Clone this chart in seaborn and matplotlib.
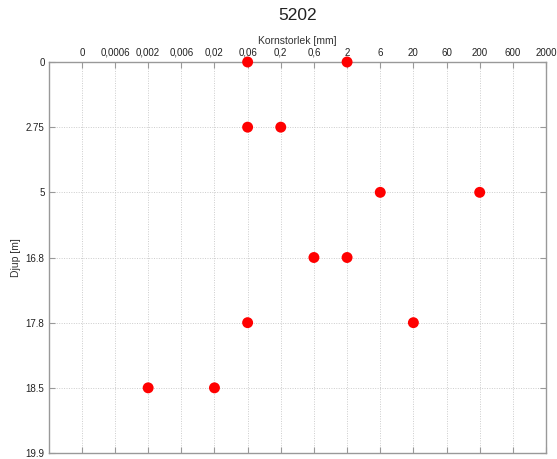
import matplotlib
matplotlib.use("Agg")
import matplotlib.pyplot as plt
import seaborn as sns
import pandas as pd

title = "5202"
x_categories = ["0", "0,0006", "0,002", "0,006", "0,02", "0,06", "0,2", "0,6",
                "2", "6", "20", "60", "200", "600", "2000"]
y_categories = ["0", "2.75", "5", "16.8", "17.8", "18.5", "19.9"]

point_depth = ["0", "0", "2.75", "2.75", "5", "5", "16.8", "16.8", "17.8", "17.8", "18.5", "18.5"]
point_size = ["0,06", "2", "0,06", "0,2", "6", "200", "0,6", "2", "0,06", "20", "0,002", "0,02"]

df = pd.DataFrame({"depth": point_depth, "size": point_size})
df["xi"] = df["size"].map({c: i for i, c in enumerate(x_categories)})
df["yi"] = df["depth"].map({c: i for i, c in enumerate(y_categories)})

sns.set_theme(style="white")
plt.rcParams["font.family"] = ["Liberation Sans", "DejaVu Sans"]

fig = plt.figure(figsize=(5.57, 4.59), dpi=100)
ax = fig.add_axes([48.7 / 557, 1 - 453 / 459, (546 - 48.7) / 557, (453 - 62) / 459])

sns.scatterplot(data=df, x="xi", y="yi", ax=ax, color="#ff0000", s=62,
                edgecolor="none", zorder=5, clip_on=False)

ax.set_xlim(-1, len(x_categories) - 1)
ax.set_ylim(len(y_categories) - 1, 0)
ax.set_xticks(range(len(x_categories)))
ax.set_xticklabels(x_categories)
ax.set_yticks(range(len(y_categories)))
ax.set_yticklabels(y_categories)

ax.xaxis.tick_top()
ax.xaxis.set_label_position("top")
ax.tick_params(axis="both", which="both", direction="in", length=4, width=0.8,
               color="#999999", labelsize=7, labelcolor="#222222",
               top=True, bottom=True, left=True, right=True, pad=3)
ax.set_xlabel("Kornstorlek [mm]", fontsize=7.5, color="#333333", labelpad=3)
ax.set_ylabel("Djup [m]", fontsize=7.5, color="#333333", labelpad=3)
fig.text((48.7 + 546) / 2 / 557, 1 - 16 / 459, title, fontsize=12.5,
         color="#222222", ha="center", va="center")

ax.grid(True, linestyle=(0, (1, 1.5)), color="#cccccc", linewidth=0.7)
ax.set_axisbelow(True)
for sp in ax.spines.values():
    sp.set_color("#999999")
    sp.set_linewidth(1.0)
    sp.set_visible(True)

fig.savefig("out.png", dpi=100)
